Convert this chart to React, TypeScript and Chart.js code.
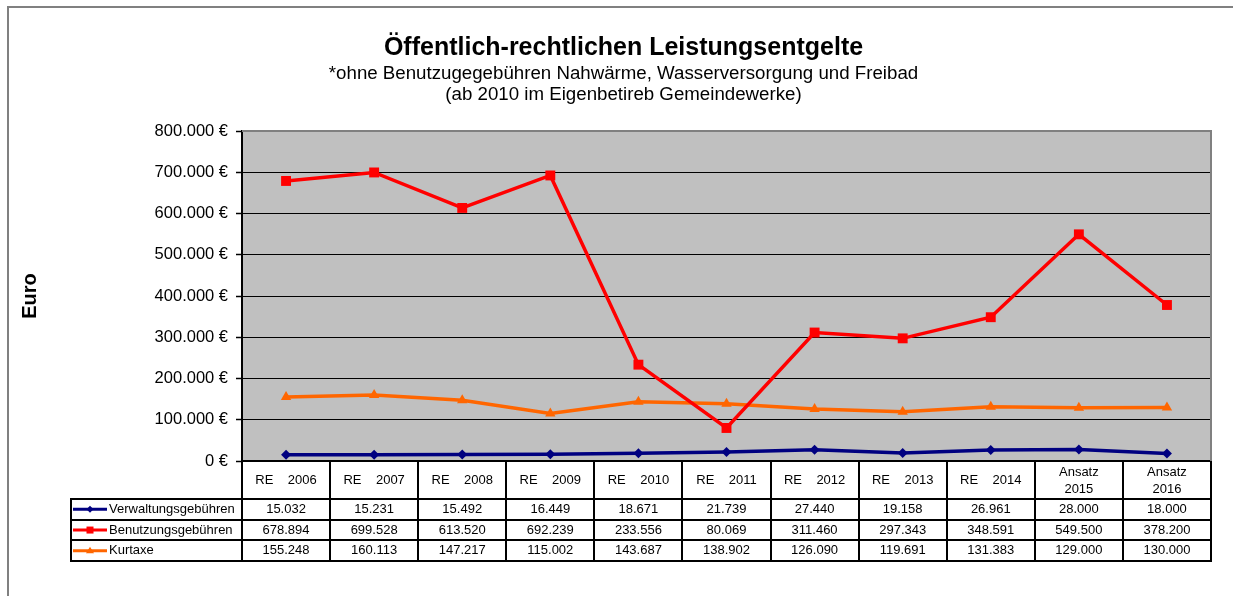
import React, { useEffect, useRef } from "react";
import { Chart, registerables } from "chart.js";

Chart.register(...registerables);

const categories = [
  "RE    2006",
  "RE    2007",
  "RE    2008",
  "RE    2009",
  "RE    2010",
  "RE    2011",
  "RE    2012",
  "RE    2013",
  "RE    2014",
  "Ansatz\n2015",
  "Ansatz\n2016",
];

const verwaltungsgebuehren = [15032, 15231, 15492, 16449, 18671, 21739, 27440, 19158, 26961, 28000, 18000];
const benutzungsgebuehren = [678894, 699528, 613520, 692239, 233556, 80069, 311460, 297343, 348591, 549500, 378200];
const kurtaxe = [155248, 160113, 147217, 115002, 143687, 138902, 126090, 119691, 131383, 129000, 130000];

const seriesNames = ["Verwaltungsgebühren", "Benutzungsgebühren", "Kurtaxe"];
const seriesColors = ["#000080", "#FF0000", "#FF6600"];
const seriesPointStyles = ["rectRot", "rect", "triangle"];
const seriesPointRadius = [5, 7, 6];

const yTicks = { min: 0, max: 800000, step: 100000 };

const titleText = "Öffentlich-rechtlichen Leistungsentgelte";
const subtitleLines = [
  "*ohne Benutzugegebühren Nahwärme, Wasserversorgung und Freibad",
  "(ab 2010 im Eigenbetireb Gemeindewerke)",
];
const yAxisTitle = "Euro";

const FONT = "'Liberation Sans', Arial, sans-serif";

const fmt = (v: number) =>
  String(Math.round(v)).replace(/\B(?=(\d{3})+(?!\d))/g, ".");

function drawMarker(ctx: CanvasRenderingContext2D, style: string, x: number, y: number, color: string) {
  ctx.fillStyle = color;
  ctx.beginPath();
  if (style === "rectRot") {
    const r = 3.5;
    ctx.moveTo(x, y - r);
    ctx.lineTo(x + r, y);
    ctx.lineTo(x, y + r);
    ctx.lineTo(x - r, y);
  } else if (style === "rect") {
    const s = 3.5;
    ctx.rect(x - s, y - s, 2 * s, 2 * s);
  } else {
    const r = 4;
    ctx.moveTo(x, y - r);
    ctx.lineTo(x + r, y + r * 0.6);
    ctx.lineTo(x - r, y + r * 0.6);
  }
  ctx.closePath();
  ctx.fill();
}

const tablePlugin = {
  id: "dataTable",
  beforeDraw(chart: any) {
    const { ctx, chartArea } = chart;
    const { left, top, right, bottom } = chartArea;
    ctx.save();
    ctx.fillStyle = "#FFFFFF";
    ctx.fillRect(0, 0, chart.width, chart.height);
    ctx.fillStyle = "#C0C0C0";
    ctx.fillRect(left, top, right - left, bottom - top);
    ctx.strokeStyle = "#808080";
    ctx.lineWidth = 2;
    ctx.strokeRect(8, 7, chart.width + 40, chart.height + 40);
    ctx.restore();
  },
  beforeDatasetsDraw(chart: any) {
    const { ctx, chartArea } = chart;
    const { left, top, right, bottom } = chartArea;
    ctx.save();
    ctx.strokeStyle = "#808080";
    ctx.lineWidth = 2;
    ctx.beginPath();
    ctx.moveTo(left, top);
    ctx.lineTo(right, top);
    ctx.lineTo(right, bottom);
    ctx.stroke();
    ctx.restore();
  },
  afterDraw(chart: any) {
    const { ctx, chartArea } = chart;
    const xScale = chart.scales.x;
    const { right, bottom } = chartArea;
    const n = chart.data.labels.length;
    const step = xScale.getPixelForValue(1) - xScale.getPixelForValue(0);
    const headerH = 38;
    const rowH = 20.7;
    const tableLeft = 71;
    const rowTop = bottom + headerH;
    const nRows = chart.data.datasets.length;
    const tableBottom = rowTop + rowH * nRows;

    ctx.save();
    ctx.strokeStyle = "#000000";
    ctx.lineWidth = 2;
    ctx.beginPath();
    for (let i = 0; i <= n; i++) {
      const x = Math.round(xScale.getPixelForValue(0) - step / 2 + i * step);
      ctx.moveTo(x, bottom);
      ctx.lineTo(x, tableBottom);
    }
    ctx.moveTo(tableLeft, rowTop);
    ctx.lineTo(tableLeft, tableBottom);
    for (let r = 0; r <= nRows; r++) {
      const y = Math.round(rowTop + r * rowH);
      ctx.moveTo(tableLeft - 1, y);
      ctx.lineTo(right + 1, y);
    }
    ctx.stroke();

    ctx.fillStyle = "#000000";
    ctx.font = `13px ${FONT}`;
    ctx.textAlign = "center";
    ctx.textBaseline = "middle";
    chart.data.labels.forEach((lab: string, i: number) => {
      const x = xScale.getPixelForValue(i);
      const lines = String(lab).split("\n");
      if (lines.length === 1) {
        ctx.fillText(lines[0], x, bottom + 19.5);
      } else {
        ctx.fillText(lines[0], x, bottom + 11);
        ctx.fillText(lines[1], x, bottom + 28);
      }
    });
    chart.data.datasets.forEach((ds: any, r: number) => {
      const yMid = rowTop + r * rowH + rowH / 2;
      ctx.fillStyle = "#000000";
      ctx.textAlign = "center";
      ds.data.forEach((v: number, i: number) => {
        ctx.fillText(fmt(v), xScale.getPixelForValue(i), yMid);
      });
      ctx.strokeStyle = ds.borderColor;
      ctx.lineWidth = 3;
      ctx.beginPath();
      ctx.moveTo(73, yMid);
      ctx.lineTo(107, yMid);
      ctx.stroke();
      drawMarker(ctx, ds.pointStyle, 90, yMid, ds.borderColor);
      ctx.fillStyle = "#000000";
      ctx.textAlign = "left";
      ctx.fillText(ds.label, 109, yMid);
    });
    ctx.restore();
  },
};

export default function App() {
  const canvasRef = useRef<HTMLCanvasElement | null>(null);

  useEffect(() => {
    document.body.style.margin = "0";
    const canvas = canvasRef.current;
    if (!canvas) return;
    const seriesData = [verwaltungsgebuehren, benutzungsgebuehren, kurtaxe];
    const chart = new Chart(canvas, {
      type: "line",
      data: {
        labels: categories,
        datasets: seriesData.map((d, i) => ({
          label: seriesNames[i],
          data: d,
          borderColor: seriesColors[i],
          backgroundColor: seriesColors[i],
          borderWidth: 3.5,
          pointStyle: seriesPointStyles[i] as any,
          pointRadius: seriesPointRadius[i],
          pointBorderWidth: 0,
          pointBackgroundColor: seriesColors[i],
          tension: 0,
        })),
      },
      options: {
        responsive: false,
        animation: false,
        layout: { padding: { left: 36, right: 22, top: 11, bottom: 0 } },
        plugins: {
          legend: { display: false },
          tooltip: { enabled: false },
          title: {
            display: true,
            text: titleText,
            color: "#000000",
            font: { family: FONT, size: 25, weight: "bold", lineHeight: 1.2 },
            padding: { top: 22, bottom: 0 },
          },
          subtitle: {
            display: true,
            text: subtitleLines,
            color: "#000000",
            font: { family: FONT, size: 18.7, weight: "normal", lineHeight: 1.15 },
            padding: { top: 0, bottom: 25 },
          },
        },
        scales: {
          x: {
            type: "category",
            offset: true,
            grid: { display: false },
            ticks: { display: false },
            border: { display: true, color: "#000000", width: 2 },
            afterFit: (s: any) => {
              s.height = 135;
            },
          },
          y: {
            min: yTicks.min,
            max: yTicks.max,
            ticks: {
              stepSize: yTicks.step,
              color: "#000000",
              font: { family: FONT, size: 16.5 },
              padding: 8,
              callback: (v: any) => `${fmt(Number(v))} €`,
            },
            grid: {
              color: "#000000",
              lineWidth: 1,
              drawTicks: true,
              tickLength: 6,
              tickColor: "#000000",
              tickWidth: 1.5,
            },
            border: { display: true, color: "#000000", width: 2 },
            title: {
              display: true,
              text: yAxisTitle,
              color: "#000000",
              font: { family: FONT, size: 20, weight: "bold", lineHeight: 1.2 },
              padding: { top: -18, bottom: 0 },
            },
            afterFit: (s: any) => {
              s.width = 206;
            },
          },
        },
      },
      plugins: [tablePlugin],
    });
    return () => chart.destroy();
  }, []);

  return <canvas ref={canvasRef} width={1233} height={596} />;
}
